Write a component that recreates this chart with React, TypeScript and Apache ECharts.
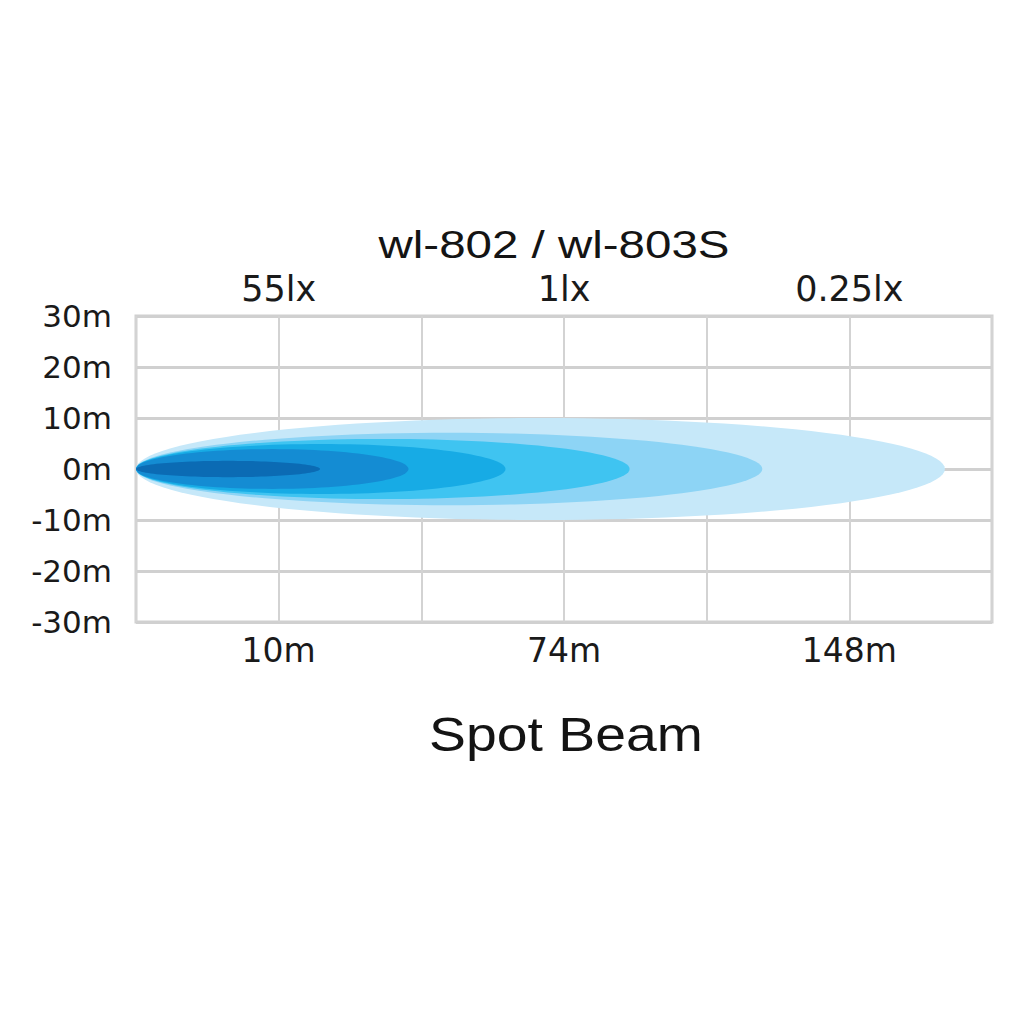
import React, { useEffect, useRef } from "react";
import * as echarts from "echarts";

// Beam layers, outermost first: reach along the distance axis (grid columns) and half-width (m)
const beamReach = [5.67, 4.39, 3.46, 2.59, 1.91, 1.29];
const beamHalfWidth = [10, 7.1, 5.9, 4.9, 3.9, 1.6];
const beamColors = ["#c6e8f9", "#8dd4f5", "#3fc4f1", "#17abe5", "#148cd3", "#0b6bb4"];

// Axis tick labels
const distanceTicks = ["", "10m", "", "74m", "", "148m", ""];
const luxTicks = ["", "55lx", "", "1lx", "", "0.25lx", ""];
const lateralTicks = [-30, -20, -10, 0, 10, 20, 30];

const titleText = "wl-802 / wl-803S";
const subtitleText = "Spot Beam";

export default function App() {
  const ref = useRef<HTMLDivElement>(null);

  useEffect(() => {
    if (!ref.current) return;
    const chart = echarts.init(ref.current, undefined, { renderer: "svg" });
    const labelFont = "'DejaVu Sans', 'Liberation Sans', Arial, sans-serif";
    const data = beamReach.map((r, i) => [r, beamHalfWidth[i]]);

    chart.setOption({
      animation: false,
      backgroundColor: "#ffffff",
      grid: {
        left: 136,
        right: 32,
        top: 316,
        bottom: 402,
        show: true,
        borderColor: "#d0d0d0",
        borderWidth: 3,
        backgroundColor: "transparent",
      },
      xAxis: [
        {
          type: "value",
          min: 0,
          max: distanceTicks.length - 1,
          interval: 1,
          position: "bottom",
          axisLine: { show: false },
          axisTick: { show: false },
          axisLabel: {
            margin: 12,
            fontFamily: labelFont,
            fontSize: 33,
            color: "#1a1a1a",
            formatter: (v: number) => distanceTicks[Math.round(v)] ?? "",
          },
          splitLine: { show: true, lineStyle: { color: "#d3d3d3", width: 2 } },
        },
        {
          type: "value",
          min: 0,
          max: luxTicks.length - 1,
          interval: 1,
          position: "top",
          axisLine: { show: false },
          axisTick: { show: false },
          axisLabel: {
            margin: 10,
            fontFamily: labelFont,
            fontSize: 35,
            color: "#1a1a1a",
            formatter: (v: number) => luxTicks[Math.round(v)] ?? "",
          },
          splitLine: { show: false },
        },
      ],
      yAxis: {
        type: "value",
        min: lateralTicks[0],
        max: lateralTicks[lateralTicks.length - 1],
        interval: 10,
        axisLine: { show: false },
        axisTick: { show: false },
        axisLabel: {
          margin: 24,
          fontFamily: labelFont,
          fontSize: 31,
          color: "#1a1a1a",
          formatter: (v: number) => `${v}m`,
        },
        splitLine: { show: true, lineStyle: { color: "#d0d0d0", width: 3 } },
      },
      graphic: [
        {
          type: "text",
          x: 554,
          y: 245,
          scaleX: 1.25,
          style: {
            text: titleText,
            font: "38px 'Liberation Sans', Arial, sans-serif",
            fill: "#141414",
            textAlign: "center",
            textVerticalAlign: "middle",
            align: "center",
            verticalAlign: "middle",
          },
        },
        {
          type: "text",
          x: 566,
          y: 734,
          scaleX: 1.13,
          style: {
            text: subtitleText,
            font: "49px 'Liberation Sans', Arial, sans-serif",
            fill: "#141414",
            textAlign: "center",
            textVerticalAlign: "middle",
            align: "center",
            verticalAlign: "middle",
          },
        },
      ],
      series: [
        {
          type: "custom",
          xAxisIndex: 0,
          yAxisIndex: 0,
          data,
          renderItem: (params: any, api: any) => {
            const reach = api.value(0);
            const half = api.value(1);
            const cx = reach / 2;
            const rx = reach / 2;
            const pts: number[][] = [];
            const n = 120;
            for (let k = 0; k <= n; k++) {
              const t = (k / n) * Math.PI * 2;
              pts.push(api.coord([cx - rx * Math.cos(t), half * Math.sin(t)]));
            }
            return {
              type: "polygon",
              shape: { points: pts, smooth: 0 },
              style: { fill: beamColors[params.dataIndex] },
            };
          },
        },
      ],
    });

    return () => chart.dispose();
  }, []);

  return (
    <div
      ref={ref}
      style={{ position: "fixed", left: 0, top: 0, width: 1024, height: 1024, background: "#fff" }}
    />
  );
}
